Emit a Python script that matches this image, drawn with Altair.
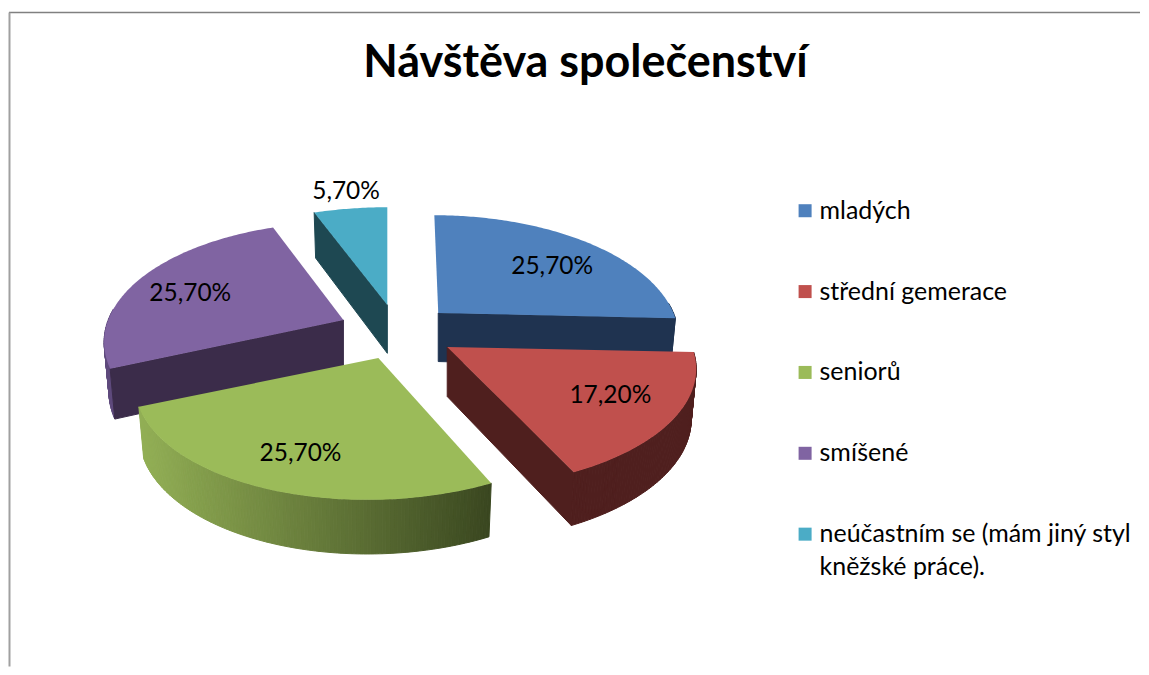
import math
import altair as alt

TITLE = "Návštěva společenství"
categories = ["mladých", "střední gemerace", "seniorů", "smíšené",
              "neúčastním se (mám jiný styl kněžské práce)."]
values = [25.7, 17.2, 25.7, 25.7, 5.7]
labels = ["25,70%", "17,20%", "25,70%", "25,70%", "5,70%"]
top_colors = ["#4f81bd", "#c0504d", "#9bbb59", "#8064a2", "#4bacc6"]
face_colors = ["#1f3350", "#4f1f1e", "#4a5a28", "#3b2c4a", "#1e4852"]
# page position of each slice's tip after it is pulled out of the pie
tips = [(438, 313), (447, 347), (378, 358), (343, 320), (387, 305)]
# how far perspective widens and leans each slice
widen = [0.99, 1.03, 1.0, 0.99, 1.03]
lean = [0.04, 0.0, -0.08, 0.0, 0.0]
label_reach = [0.75, 0.74, 0.74, 0.75, 1.2]
label_nudge = [(3, 7), (-5, -4), (5, -1), (-2, 6), (3, 3)]
draw_order = [4, 0, 3, 1, 2]

W, H = 1133, 659
RX, RY, K = 238.0, 116.0, 0.184


def depth(y):
    return 50 + 0.03 * (y - 360)


def rim_point(i, deg):
    tip = tips[i]
    t = math.radians(deg)
    u = -math.cos(t)
    p = 1 / (1 - K * u)
    dy = RY * u * p
    return (tip[0] + widen[i] * RX * math.sin(t) * p + lean[i] * dy, tip[1] + dy)


def lower(tip, pt):
    return (tip[0] + (pt[0] - tip[0]) * 0.98, pt[1] + depth(pt[1]))


def poly(points, **props):
    ring = [list(p) for p in points] + [list(points[0])]
    return {"type": "Feature", "properties": props,
            "geometry": {"type": "Polygon", "coordinates": [ring]}}


def lerp_hex(a, b, t):
    ca = [int(a[i:i + 2], 16) for i in (1, 3, 5)]
    cb = [int(b[i:i + 2], 16) for i in (1, 3, 5)]
    return "#" + "".join(f"{round(x + (y - x) * t):02x}" for x, y in zip(ca, cb))


def rim_colour(i, x):
    if i == 2:
        return lerp_hex("#93b055", "#3a4720", min(1, max(0, (x - 136) / 355)))
    if i == 3:
        return "#5e4a7c"
    return face_colors[i]


starts = []
acc = 0.0
for v in values:
    starts.append(acc)
    acc += v * 3.6

layers = []
color_enc = alt.Color("properties.cat:N",
                      scale=alt.Scale(domain=categories, range=top_colors),
                      legend=alt.Legend(
                          title=None, orient="none", legendX=785, legendY=190,
                          symbolType="square", symbolSize=170, symbolStrokeWidth=0,
                          labelFont="Lato", labelFontSize=25, labelColor="#000000",
                          labelLimit=400, rowPadding=55, labelOffset=2,
                          labelExpr="length(datum.label) > 30 ? [slice(datum.label, 0, 28), slice(datum.label, 29)] : datum.label"))

for i in draw_order:
    tip = tips[i]
    a0, a1 = starts[i], starts[i] + values[i] * 3.6
    n = max(2, int((a1 - a0) / 0.75))
    angles = [a0 + (a1 - a0) * j / n for j in range(n + 1)]
    arc = [rim_point(i, a) for a in angles]
    side = []
    tip_low = (tip[0], tip[1] + depth(tip[1]))
    for j in range(n):
        if angles[j + 1] < 85 or angles[j] > 275:
            continue
        p, q = arc[j], arc[j + 1]
        side.append(poly([p, q, lower(tip, q), lower(tip, p)],
                         fill=rim_colour(i, (p[0] + q[0]) / 2)))
    if math.sin(math.radians(a0)) < -1e-6:
        side.append(poly([tip, arc[0], lower(tip, arc[0]), tip_low], fill=face_colors[i]))
    if math.sin(math.radians(a1)) > 1e-6 and a1 < 180:
        side.append(poly([tip, arc[-1], lower(tip, arc[-1]), tip_low], fill=face_colors[i]))
    layers.append(alt.Chart(alt.Data(values=side)).mark_geoshape(strokeWidth=1).encode(
        fill=alt.Fill("properties.fill:N", scale=None),
        stroke=alt.Stroke("properties.fill:N", scale=None)))
    top = [poly([tip] + arc, cat=categories[i])]
    layers.append(alt.Chart(alt.Data(values=top)).mark_geoshape(strokeWidth=0).encode(
        color=color_enc))

lab_rows = []
for i, lab in enumerate(labels):
    mid = starts[i] + values[i] * 1.8
    x, y = rim_point(i, mid)
    f = label_reach[i]
    lab_rows.append({"label": lab,
                     "lon": tips[i][0] + (x - tips[i][0]) * f + label_nudge[i][0],
                     "lat": tips[i][1] + (y - tips[i][1]) * f + label_nudge[i][1]})
text = alt.Chart(alt.Data(values=lab_rows)).mark_text(
    font="Lato", fontSize=24.5, color="#000000").encode(
    longitude="lon:Q", latitude="lat:Q", text="label:N")

top_rule = alt.Chart(alt.Data(values=[{}])).mark_rule(color="#808080", strokeWidth=1.5).encode(
    x=alt.value(0), x2=alt.value(W), y=alt.value(4))
left_rule = alt.Chart(alt.Data(values=[{}])).mark_rule(color="#a0a0a0", strokeWidth=2).encode(
    x=alt.value(0.5), y=alt.value(4), y2=alt.value(H))

chart = alt.layer(*layers, text, top_rule, left_rule).project(
    type="identity", scale=1, translate=[-8, -8]
).properties(
    width=W, height=H, padding=0,
    title=alt.TitleParams(TITLE, font="Lato", fontSize=45, fontWeight="bold", color="#000000",
                          anchor="middle", dx=11, offset=-78),
    background="#ffffff",
).configure(view={"stroke": None}, style={"guide-label": {"lineHeight": 33}})

chart.save("out.html", embed_options={"renderer": "svg", "actions": False})
